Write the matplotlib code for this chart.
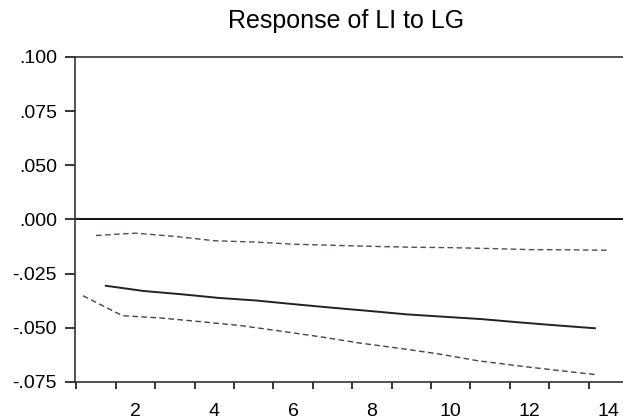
# Impulse response of LI to a shock in LG, with the two S.E. bands
from matplotlib import pyplot as plt

plt.rcParams["font.family"] = ["Liberation Sans", "DejaVu Sans"]

title = "Response of LI to LG"

# periods as they sit on the axis for each series
upper_x = [1, 2, 3, 4, 5, 6, 7, 8, 9, 10, 11, 12, 13, 14]
upper_band = [-0.0074, -0.0063, -0.0078, -0.0098, -0.0104, -0.0114, -0.0119,
              -0.0124, -0.0128, -0.0130, -0.0134, -0.0139, -0.0140, -0.0142]

response_x = [1.25, 2.21, 3.16, 4.12, 5.07, 6.03, 6.98,
              7.93, 8.89, 9.84, 10.80, 11.75, 12.71, 13.66]
response = [-0.0306, -0.0330, -0.0345, -0.0362, -0.0374, -0.0391, -0.0407,
            -0.0422, -0.0438, -0.0449, -0.0460, -0.0475, -0.0489, -0.0502]

lower_x = [0.67, 1.67, 2.67, 3.68, 4.68, 5.68, 6.68,
           7.68, 8.68, 9.68, 10.69, 11.69, 12.69, 13.69]
lower_band = [-0.0352, -0.0444, -0.0455, -0.0472, -0.0490, -0.0515, -0.0541,
              -0.0570, -0.0594, -0.0620, -0.0652, -0.0675, -0.0696, -0.0716]

x_labels = [2, 4, 6, 8, 10, 12, 14]
y_ticks = [-0.075, -0.05, -0.025, 0.0, 0.025, 0.05, 0.075]
y_labels = ["-.075", "-.050", "-.025", ".000", ".050", ".075", ".100"]


if __name__ == '__main__':
    fig = plt.figure(figsize=(6.23, 4.2), dpi=100)
    ax = fig.add_axes([0.1204, 0.0905, 0.8876, 0.7738])

    dash = (0, (4, 2.5))
    ax.axhline(0, color="black", linewidth=1.3)
    ax.plot(upper_x, upper_band, color="#5a4a4a", linewidth=1, linestyle=dash)
    ax.plot(response_x, response, color="#222222", linewidth=1.4)
    ax.plot(lower_x, lower_band, color="#444444", linewidth=1, linestyle=dash)

    ax.set_xlim(0.467, 14.5)
    ax.set_ylim(-0.075, 0.075)

    # tick marks sit between periods, labels at the period itself
    ax.set_xticks([k + 0.5 for k in range(14)])
    ax.set_xticklabels([])
    ax.set_xticks(x_labels, minor=True)
    ax.set_xticklabels([str(v) for v in x_labels], minor=True)
    ax.tick_params(axis="x", which="major", direction="out", length=5, width=1.1)
    ax.tick_params(axis="x", which="minor", length=0, pad=15, labelsize=14)

    ax.set_yticks(y_ticks)
    ax.set_yticklabels(y_labels)
    ax.tick_params(axis="y", direction="out", length=7, width=1.1, pad=6, labelsize=14)

    for side in ["left", "bottom", "top", "right"]:
        ax.spines[side].set_color("#333333")
        ax.spines[side].set_linewidth(1.2)

    fig.text(0.556, 0.933, title, ha="center", va="baseline", fontsize=18)

    fig.savefig("out.png", dpi=100)
